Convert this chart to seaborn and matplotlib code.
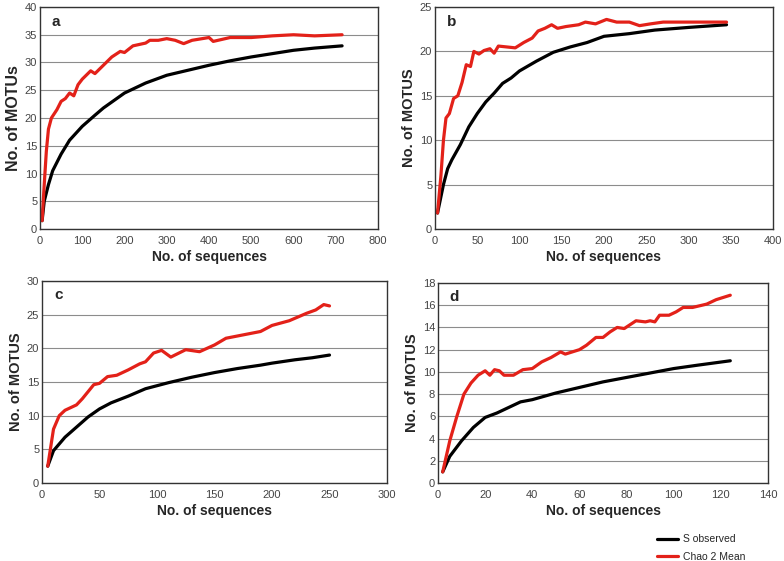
import matplotlib
matplotlib.use("Agg")
import matplotlib.pyplot as plt
import seaborn as sns
import pandas as pd

# panel a
a_chao_x = [5, 10, 15, 20, 27, 40, 50, 60, 70, 80, 90, 100, 120, 130, 150, 170, 190, 200, 220, 250,
            260, 280, 300, 320, 340, 360, 400, 410, 450, 500, 550, 600, 650, 715]
a_chao_y = [1.5, 8, 14, 18, 20, 21.5, 23, 23.5, 24.5, 24, 26, 27, 28.5, 28, 29.5, 31, 32, 31.8, 33, 33.5,
            34, 34, 34.3, 34, 33.4, 34, 34.5, 33.8, 34.5, 34.5, 34.8, 35, 34.8, 35]
a_obs_x = [5, 10, 20, 30, 50, 70, 100, 130, 150, 200, 250, 300, 350, 400, 450, 500, 550, 600, 650, 715]
a_obs_y = [1.5, 5, 8, 10.5, 13.5, 16, 18.5, 20.5, 21.8, 24.5, 26.3, 27.7, 28.6, 29.5, 30.3, 31, 31.6,
           32.2, 32.6, 33]

# panel b
b_chao_x = [3, 7, 10, 13, 17, 22, 27, 32, 37, 42, 46, 52, 58, 65, 70, 75, 85, 95, 105, 115, 122, 130,
            138, 145, 155, 170, 178, 190, 203, 215, 230, 242, 255, 270, 300, 345]
b_chao_y = [1.8, 6, 10, 12.5, 13, 14.7, 15, 16.5, 18.5, 18.3, 20, 19.7, 20.1, 20.3, 19.8, 20.6, 20.5,
            20.4, 21, 21.5, 22.3, 22.6, 23, 22.6, 22.8, 23, 23.3, 23.1, 23.6, 23.3, 23.3, 22.9, 23.1,
            23.3, 23.3, 23.3]
b_obs_x = [3, 10, 15, 20, 30, 40, 50, 60, 70, 80, 90, 100, 120, 140, 160, 180, 200, 230, 260, 300, 345]
b_obs_y = [1.8, 5, 6.8, 7.8, 9.5, 11.5, 13, 14.3, 15.3, 16.4, 17, 17.8, 18.9, 19.9, 20.5, 21, 21.7,
           22, 22.4, 22.7, 23]

# panel c
c_chao_x = [5, 10, 15, 20, 25, 30, 35, 45, 50, 57, 65, 75, 85, 90, 97, 104, 112, 125, 137, 150, 160,
            175, 190, 200, 215, 230, 238, 245, 250]
c_chao_y = [2.5, 8, 10, 10.8, 11.2, 11.6, 12.5, 14.6, 14.8, 15.8, 16, 16.8, 17.7, 18, 19.3, 19.7, 18.7,
            19.8, 19.5, 20.5, 21.5, 22, 22.5, 23.4, 24.1, 25.2, 25.7, 26.5, 26.3]
c_obs_x = [5, 10, 20, 30, 40, 50, 60, 75, 90, 110, 130, 150, 170, 190, 200, 220, 235, 250]
c_obs_y = [2.5, 4.8, 6.8, 8.3, 9.8, 11, 11.9, 12.9, 14, 14.9, 15.7, 16.4, 17, 17.5, 17.8, 18.3, 18.6, 19]

# panel d
d_chao_x = [2, 5, 8, 11, 14, 17, 20, 22, 24, 26, 28, 32, 36, 40, 44, 48, 52, 54, 60, 63, 67, 70, 73,
            76, 79, 84, 88, 90, 92, 94, 98, 101, 104, 108, 114, 118, 124]
d_chao_y = [1, 3.8, 6, 8, 9, 9.7, 10.1, 9.7, 10.2, 10.1, 9.7, 9.7, 10.2, 10.3, 10.9, 11.3, 11.8, 11.6,
            12, 12.4, 13.1, 13.1, 13.6, 14, 13.9, 14.6, 14.5, 14.6, 14.5, 15.1, 15.1, 15.4, 15.8, 15.8,
            16.1, 16.5, 16.9]
d_obs_x = [2, 5, 10, 15, 20, 25, 30, 35, 40, 50, 60, 70, 80, 90, 100, 110, 124]
d_obs_y = [1, 2.4, 3.8, 5, 5.9, 6.3, 6.8, 7.3, 7.5, 8.1, 8.6, 9.1, 9.5, 9.9, 10.3, 10.6, 11]

sns.set_style("white")
plt.rcParams['font.family'] = ['Liberation Sans', 'DejaVu Sans']

W, H = 784, 561
fig = plt.figure(figsize=(W / 100, H / 100), dpi=100)

panels = [
    ("a", (40, 378, 7, 229), a_obs_x, a_obs_y, a_chao_x, a_chao_y, 800, 100, 40, 5, "No. of MOTUs", 11.5),
    ("b", (435, 773, 7, 229), b_obs_x, b_obs_y, b_chao_x, b_chao_y, 400, 50, 25, 5, "No. of MOTUS", 10.5),
    ("c", (42, 387, 281, 483), c_obs_x, c_obs_y, c_chao_x, c_chao_y, 300, 50, 30, 5, "No. of MOTUS", 10.5),
    ("d", (438, 768, 283, 483), d_obs_x, d_obs_y, d_chao_x, d_chao_y, 140, 20, 18, 2, "No. of MOTUS", 10.5),
]

red = "#e32119"
for name, (l, r, t, b), ox, oy, cx, cy, xmax, xstep, ymax, ystep, ylab, yfs in panels:
    ax = fig.add_axes([l / W, 1 - b / H, (r - l) / W, (b - t) / H])
    obs = pd.DataFrame({"x": ox, "y": oy})
    chao = pd.DataFrame({"x": cx, "y": cy})
    sns.lineplot(data=obs, x="x", y="y", ax=ax, color="black", lw=2.3, label="S observed", legend=False)
    sns.lineplot(data=chao, x="x", y="y", ax=ax, color=red, lw=2.3, label="Chao 2 Mean", legend=False)
    ax.set_xlim(0, xmax)
    ax.set_ylim(0, ymax)
    ax.set_xticks(range(0, xmax + 1, xstep))
    ax.set_yticks(range(0, ymax + 1, ystep))
    ax.yaxis.grid(True, color="#8c8c8c", lw=0.8)
    ax.set_axisbelow(True)
    for sp in ax.spines.values():
        sp.set_color("#333333")
        sp.set_linewidth(1.0)
    ax.tick_params(axis="both", labelsize=8, labelcolor="#444444", length=3, width=0.8,
                   color="#333333", pad=2)
    ax.tick_params(axis="y", length=0)
    ax.set_xlabel("No. of sequences", fontsize=10, fontweight="bold", labelpad=3)
    ax.set_ylabel(ylab, fontsize=yfs, fontweight="bold", labelpad=3)
    ax.text(0.035, 0.965, name, transform=ax.transAxes, fontsize=11, fontweight="bold",
            va="top", ha="left")

handles, labels = ax.get_legend_handles_labels()
fig.legend(handles, labels, loc="upper left", bbox_to_anchor=(648 / W, 1 - 525 / H),
           frameon=False, fontsize=7.5, handlelength=2.0, handletextpad=0.5, labelspacing=0.7)

fig.savefig("out.png", dpi=100)
